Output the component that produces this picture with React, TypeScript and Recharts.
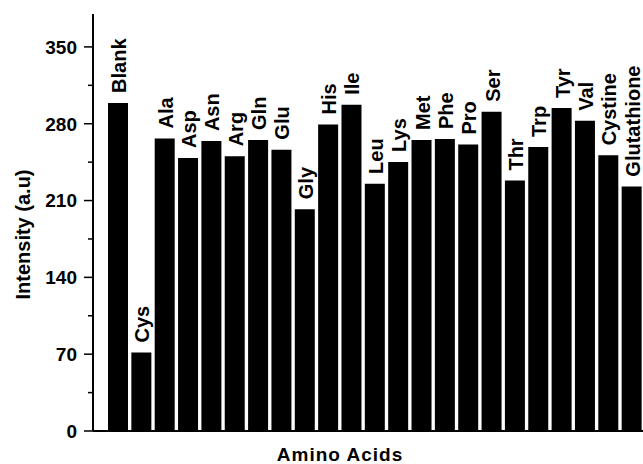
import React from "react"
import { BarChart, Bar, XAxis, YAxis, LabelList, Label } from "recharts"

const aminoAcids = [
    "Blank", "Cys", "Ala", "Asp", "Asn", "Arg", "Gln", "Glu", "Gly", "His", "Ile", "Leu",
    "Lys", "Met", "Phe", "Pro", "Ser", "Thr", "Trp", "Tyr", "Val", "Cystine", "Glutathione"
]
const intensities = [
    299, 71.5, 266.6, 248.8, 264.2, 250.3, 265.2, 256.4, 202.1, 279.4, 297.3, 225.2,
    245.2, 265.2, 266.1, 261, 290.9, 228.2, 258.8, 294.3, 282.7, 251.2, 222.7
]
const yTicks = [0, 35, 70, 105, 140, 175, 210, 245, 280, 315, 350]
const majorTicks = [0, 70, 140, 210, 280, 350]

const FONT = "'Liberation Sans', Arial, sans-serif"

const data = aminoAcids.map((name, i) => ({ name, value: intensities[i] }))

function YTick(props: any) {
    const { x, y, payload } = props
    const major = majorTicks.includes(payload.value)
    return (
        <g>
            <line x1={x - (major ? 9 : 5)} x2={x} y1={y} y2={y} stroke="#000" strokeWidth={1.5} />
            {major && (
                <text x={x - 16} y={y} dy="0.36em" textAnchor="end" fontFamily={FONT}
                    fontSize={19} fontWeight="bold" fill="#000">
                    {payload.value}
                </text>
            )}
        </g>
    )
}

// rotated names sitting just above each bar
function BarName(props: any) {
    const { x, y, width, value } = props
    const tx = x + width / 2 + 8
    const ty = y - 10
    return (
        <text x={tx} y={ty} transform={`rotate(-90 ${tx} ${ty})`} textAnchor="start"
            fontFamily={FONT} fontSize={20} fontWeight="bold" fill="#000">
            {value}
        </text>
    )
}

function YTitle(props: any) {
    const { viewBox } = props
    const cx = viewBox.x + 23
    const cy = viewBox.y + viewBox.height / 2 + 12
    return (
        <text x={cx} y={cy} transform={`rotate(-90 ${cx} ${cy})`} textAnchor="middle"
            dominantBaseline="central" fontFamily={FONT} fontSize={20} fontWeight="bold" fill="#000">
            Intensity (a.u)
        </text>
    )
}

export default function App() {
    return (
        <div style={{ position: "absolute", left: 0, top: 0, background: "#fff" }}>
            <BarChart width={643} height={464} data={data}
                margin={{ top: 14, right: 0, bottom: 0, left: 0 }}>
                <XAxis dataKey="name" height={33} tick={false} tickLine={false}
                    axisLine={{ stroke: "#000", strokeWidth: 2 }} padding={{ left: 13, right: 0 }}>
                    <Label value="Amino Acids" position="insideBottom" offset={3} dx={-28}
                        style={{ fontFamily: FONT, fontSize: 19, fontWeight: "bold", fill: "#000", letterSpacing: 1 }} />
                </XAxis>
                <XAxis xAxisId="top" dataKey="name" orientation="top" height={0} tick={false}
                    tickLine={false} axisLine={{ stroke: "#000", strokeWidth: 2 }} />
                <YAxis width={93} domain={[0, 380]} ticks={yTicks} interval={0} tickSize={0}
                    tickMargin={0} tickLine={false} tick={<YTick />}
                    axisLine={{ stroke: "#000", strokeWidth: 2 }}>
                    <Label content={<YTitle />} />
                </YAxis>
                <Bar dataKey="value" fill="#000" barSize={20} isAnimationActive={false}>
                    <LabelList dataKey="name" content={<BarName />} />
                </Bar>
            </BarChart>
        </div>
    )
}
